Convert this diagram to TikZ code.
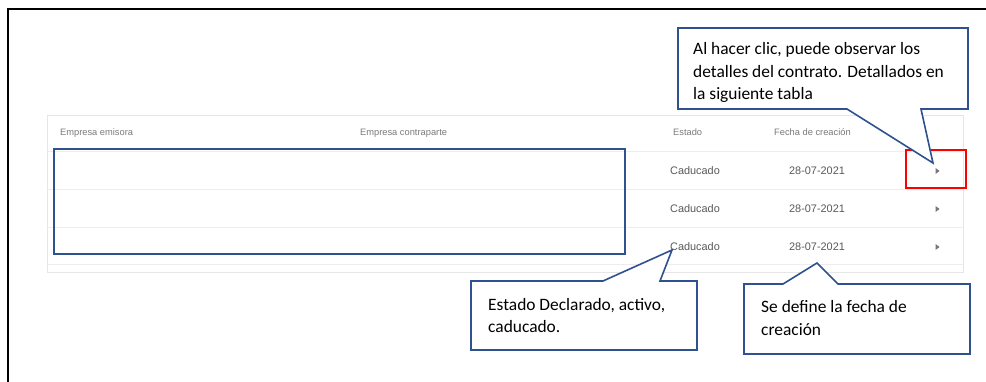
\documentclass[tikz,border=0pt]{standalone}
\usepackage{fontspec}
\setmainfont{Carlito}
\newfontfamily\tablefont{Liberation Sans}
\begin{document}
\begin{tikzpicture}[x=1pt,y=-1pt,
  callout/.style={draw=calloutblue,line width=1.6pt,fill=white,line join=miter},
  callouttext/.style={anchor=base west,inner sep=0pt,align=left,font=\fontsize{17.4}{22.7}\selectfont,text=black},
  headtext/.style={inner sep=0pt,font=\tablefont\fontsize{9.3}{11}\selectfont,text=headgray},
  celltext/.style={inner sep=0pt,font=\tablefont\fontsize{10.9}{13}\selectfont,text=cellgray},
  rowline/.style={draw=linegray,line width=1pt},
  arrowicon/.style={fill=icongray}
]
\definecolor{calloutblue}{HTML}{2F528F}
\definecolor{headgray}{HTML}{7A7A7A}
\definecolor{cellgray}{HTML}{5A5A5A}
\definecolor{linegray}{HTML}{EDEDED}
\definecolor{cardgray}{HTML}{E6E6E6}
\definecolor{icongray}{HTML}{777777}
\useasboundingbox (0,0) rectangle (986,382);
\fill[white] (0,0) rectangle (986,382);
% frame
\draw[black,line width=2pt] (8,382) -- (8,9) -- (986,9);
% card
\draw[cardgray,line width=0.8pt] (47,115) rectangle (963,272);
\draw[rowline] (47,152) -- (963,152);
\draw[rowline] (47,190) -- (963,190);
\draw[rowline] (47,228) -- (963,228);
\draw[rowline] (47,265) -- (963,265);
% headers
\node[headtext,anchor=base west] (h1) at (60,136) {Empresa emisora};
\node[headtext,anchor=base west] (h2) at (360,136) {Empresa contraparte};
\node[headtext,anchor=base west] (h3) at (673,136) {Estado};
\node[headtext,anchor=base west] (h4) at (774,136) {Fecha de creación};
% cells
\foreach \y/\n in {171/1,209/2,247/3}{
  \node[celltext] (st\n) at (695,\y) {Caducado};
  \node[celltext] (fe\n) at (817,\y) {28-07-2021};
  \fill[arrowicon] (935.5,{\y-3}) -- (939.5,\y) -- (935.5,{\y+3}) -- cycle;
}
% redaction box
\draw[calloutblue,line width=1.6pt] (54,149) rectangle (625,254);
% red highlight
\draw[red,line width=1.6pt] (906,150) rectangle (966,188);
% callout 1
\coordinate (t1) at (933,163);
\draw[callout] (678,28) -- (968,28) -- (968,109) -- (921,109) -- (t1) -- (847,109) -- (678,109) -- cycle;
\node[callouttext] (c1) at (693,100) {Al hacer clic, puede observar los\\detalles del contrato. Detallados en\\la siguiente tabla};
% callout 2
\coordinate (t2) at (672,250);
\draw[callout] (471,281) -- (603,281) -- (t2) -- (660,281) -- (697,281) -- (697,350) -- (471,350) -- cycle;
\node[callouttext] (c2) at (488,333) {Estado Declarado, activo,\\caducado.};
% callout 3
\coordinate (t3) at (817,263);
\draw[callout] (744,284) -- (783,284) -- (t3) -- (838,284) -- (970,284) -- (970,354) -- (744,354) -- cycle;
\node[callouttext] (c3) at (761,335) {Se define la fecha de\\creación};
\end{tikzpicture}
\end{document}
